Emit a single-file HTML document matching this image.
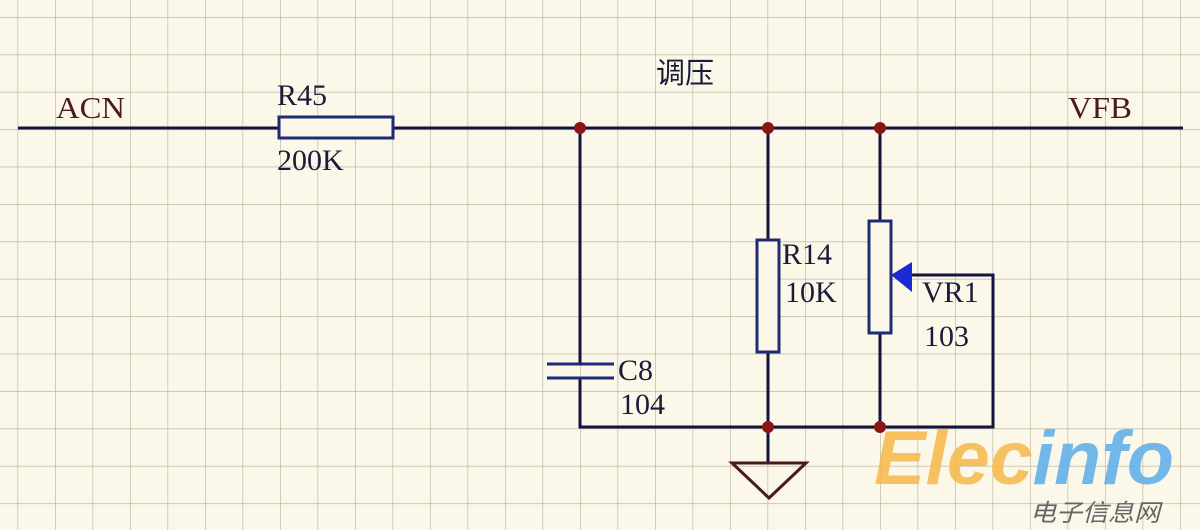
<!DOCTYPE html>
<html><head><meta charset="utf-8"><style>
html,body{margin:0;padding:0;background:#fbf8e9;}
svg{display:block}
text{font-family:"Liberation Serif","Noto Serif CJK SC",serif;}
</style></head><body>
<svg width="1200" height="530" viewBox="0 0 1200 530" xmlns="http://www.w3.org/2000/svg">
<defs>
<pattern id="g" x="17.5" y="17" width="37.5" height="37.4" patternUnits="userSpaceOnUse">
<path d="M0 0H37.5M0 0V37.4" stroke="#bdb9a6" stroke-width="1.4" fill="none"/>
</pattern>
</defs>
<rect width="1200" height="530" fill="#fbf8e9"/>
<rect width="1200" height="530" fill="url(#g)"/>
<g stroke="#141440" stroke-width="3" fill="none">
<path d="M18 128H1183"/>
<path d="M580 128V364M580 378V427H993V275H912"/>
<path d="M768 128V240M768 352V463"/>
<path d="M880 128V221M880 333V427"/>
</g>
<g stroke="#1f2a78" stroke-width="3" fill="#fbf8e9">
<rect x="279" y="117" width="114" height="21"/>
<rect x="757" y="240" width="22" height="112"/>
<rect x="869" y="221" width="22" height="112"/>
</g>
<g stroke="#1f2a78" stroke-width="3">
<path d="M547 364H614M547 378H614"/>
</g>
<path d="M891 275L912 262V292Z" fill="#1a2ad0"/>
<path d="M732 463H806L769 498Z" fill="none" stroke="#4a1a1a" stroke-width="3"/>
<g fill="#8b1515">
<circle cx="580" cy="128" r="6"/><circle cx="768" cy="128" r="6"/><circle cx="880" cy="128" r="6"/>
<circle cx="768" cy="427" r="6"/><circle cx="880" cy="427" r="6"/>
</g>
<g font-size="31" fill="#4a1c1c">
<text x="56" y="118" textLength="69" lengthAdjust="spacingAndGlyphs">ACN</text>
<text x="1068" y="118" textLength="64" lengthAdjust="spacingAndGlyphs">VFB</text>
</g>
<g font-size="30" fill="#1a1a3a">
<text x="277" y="105">R45</text>
<text x="277" y="170">200K</text>
<text x="782" y="264">R14</text>
<text x="785" y="302">10K</text>
<text x="922" y="302">VR1</text>
<text x="924" y="346">103</text>
<text x="618" y="380">C8</text>
<text x="620" y="414">104</text>
</g>
<text x="656" y="83" font-size="29" fill="#1a1a3a" style="font-family:'Noto Sans CJK SC',sans-serif">调压</text>
<text x="874" y="484" font-size="76" font-weight="bold" font-style="italic" fill="#f7b84a" opacity="0.85" style="font-family:'Liberation Sans',sans-serif" textLength="300" lengthAdjust="spacingAndGlyphs">Elec<tspan fill="#5aaee8">info</tspan></text>
<text x="1030" y="521" font-size="24" font-style="italic" fill="#666" style="font-family:'Noto Sans CJK SC',sans-serif" textLength="130" lengthAdjust="spacingAndGlyphs">电子信息网</text>
</svg>
</body></html>
